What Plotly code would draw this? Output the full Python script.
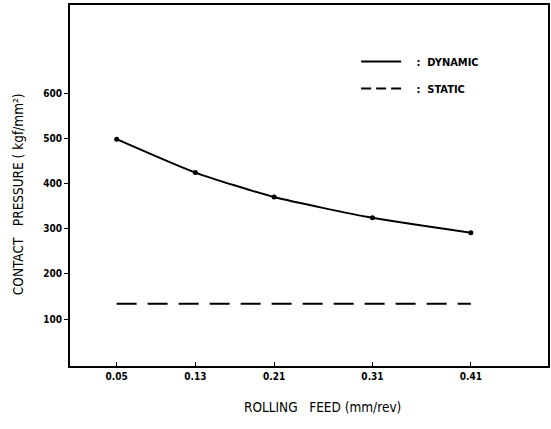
import plotly.graph_objects as go

feed = [0.05, 0.13, 0.21, 0.31, 0.41]
dynamic = [498, 424, 370, 324, 291]
static = [134, 134, 134, 134, 134]
x_ticks = [0.05, 0.13, 0.21, 0.31, 0.41]
x_tick_labels = ["0.05", "0.13", "0.21", "0.31", "0.41"]
y_ticks = [100, 200, 300, 400, 500, 600]

FONT = "DejaVu Sans Condensed, Liberation Sans Narrow, Arial Narrow, sans-serif"

fig = go.Figure()
fig.add_trace(go.Scatter(x=feed, y=dynamic, mode="lines+markers", line=dict(color="black", width=2, shape="spline", smoothing=0.6),
                         marker=dict(color="black", size=5), showlegend=False))
fig.add_trace(go.Scatter(x=feed, y=static, mode="lines", line=dict(color="black", width=2, dash="20px,11px"), showlegend=False))
# legend entries
fig.add_trace(go.Scatter(x=[None], y=[None], mode="lines", line=dict(color="black", width=2), name="   :  DYNAMIC", legendgroup="a"))
fig.add_trace(go.Scatter(x=[None], y=[None], mode="lines", line=dict(color="black", width=2, dash="10px,5px"), name="   :  STATIC", legendgroup="b"))

fig.update_layout(
    width=551, height=429,
    margin=dict(l=70, r=3, t=5, b=63),
    paper_bgcolor="white", plot_bgcolor="white",
    font=dict(family=FONT, color="black", size=11),
    legend=dict(x=0.5986, y=0.884, xanchor="left", yanchor="top", bgcolor="rgba(0,0,0,0)", itemwidth=40,
                traceorder="grouped", tracegroupgap=8, font=dict(size=11, weight="bold")),
    xaxis=dict(range=[0.0026, 0.4884], tickvals=x_ticks, ticktext=x_tick_labels, ticks="inside", ticklen=4,
               tickcolor="black", showgrid=False, zeroline=False, showline=True, linecolor="black", linewidth=2,
               mirror=True, tickfont=dict(size=10, weight="bold"), automargin=False),
    yaxis=dict(range=[-4, 795], tickvals=y_ticks, ticks="outside", ticklen=4, tickcolor="black",
               showgrid=False, zeroline=False, showline=True, linecolor="black", linewidth=2, mirror=True,
               tickfont=dict(size=10, weight="bold"), automargin=False),
    annotations=[
        dict(text="ROLLING   FEED (mm/rev)", xref="paper", yref="paper", x=0.529, y=-0.1136,
             xanchor="center", yanchor="middle", showarrow=False, font=dict(size=13.5)),
        dict(text="CONTACT   PRESSURE ( kgf/mm²)", xref="paper", yref="paper", x=-0.1088, y=0.476,
             xanchor="center", yanchor="middle", showarrow=False, textangle=-90, font=dict(size=13.5)),
    ],
)

fig.write_html("out.html", config={"displayModeBar": False},
               post_script="document.body.style.margin='0';document.body.style.overflow='hidden';")
